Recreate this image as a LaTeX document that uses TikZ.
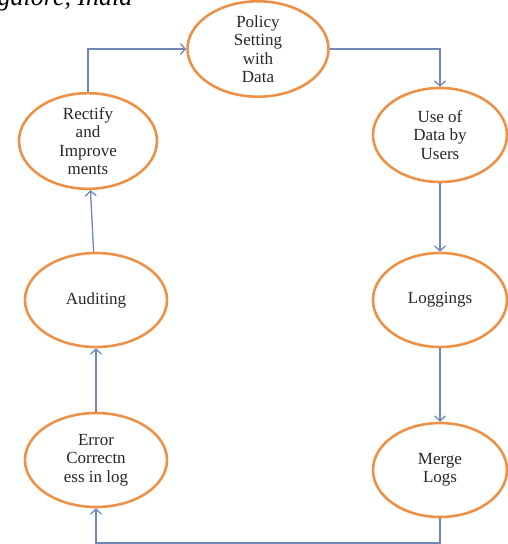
\documentclass[tikz,border=0pt]{standalone}
\usepackage{fontspec}
\setmainfont{Liberation Serif}
\usetikzlibrary{shapes.geometric, arrows.meta}
\definecolor{ringorange}{RGB}{236,146,72}
\definecolor{flowblue}{RGB}{112,134,182}

\begin{document}
\begin{tikzpicture}[-{Straight Barb[length=5pt,width=11pt]}, x=1pt, y=-1pt,
      inner sep=0pt, line width=1.3pt, draw=flowblue,
      stage/.style={ellipse, draw=ringorange, line width=2.6pt, align=center,
        minimum width=138pt, minimum height=94pt, text=black!85,
        font=\fontsize{17}{18.5}\selectfont}]
      \useasboundingbox (0,0) rectangle (508,544);
      \clip (0,0) rectangle (508,544);
      \node[anchor=base west, font=\fontsize{26}{26}\itshape\selectfont] (head) at (-3,5) {galore, India};
      % cycle of stages
      \node[stage, minimum width=141pt, minimum height=92pt](c_1) at(258,49) {Policy\\Setting\\with\\Data};
      \node[stage, minimum width=134pt](c_2) at(440,135) {Use of\\Data by\\Users};
      \node[stage, minimum width=134pt](c_3) at(440,300) {Loggings};
      \node[stage, minimum width=134pt](c_4) at(440,470) {Merge\\Logs};
      \node[stage, minimum width=142pt](c_5) at(96,460) {Error\\Correctn\\ess in log};
      \node[stage, minimum width=142pt](c_6) at(96,300) {Auditing};
      \node[stage, minimum height=93pt](c_7) at(88,141) {Rectify\\and\\Improve\\ments};
      \coordinate (b_1) at (440,543);
      \path (c_7.north) edge[to path={|- (\tikztotarget)}] (c_1.west);
      \path (c_1.east) edge[to path={-| (\tikztotarget)}] (c_2.north);
      \path (c_2) edge (c_3);
      \path (c_3) edge (c_4);
      \draw (c_4.south) -- (b_1) -| (c_5.south);
      \path (c_5) edge (c_6);
      \path (c_6) edge (c_7);
  \end{tikzpicture}
\end{document}
